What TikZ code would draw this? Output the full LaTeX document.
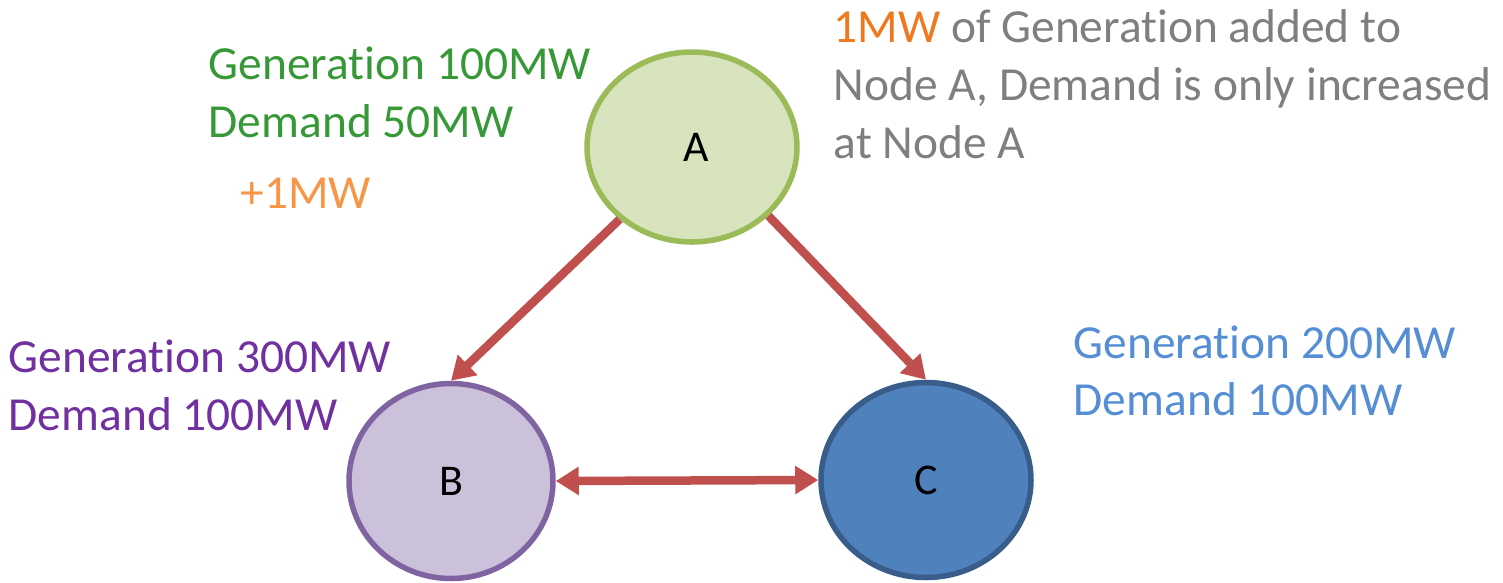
\documentclass[tikz,border=0pt]{standalone}
\usepackage{fontspec}
\setmainfont{Carlito}
\usepackage{xcolor}
\usetikzlibrary{shapes.geometric, arrows.meta}

\definecolor{greentext}{RGB}{55,152,55}
\definecolor{plusorange}{RGB}{247,150,70}
\definecolor{noteorange}{RGB}{240,120,30}
\definecolor{notegray}{RGB}{127,127,127}
\definecolor{purpletext}{RGB}{112,48,160}
\definecolor{bluetext}{RGB}{85,142,213}
\definecolor{fillA}{RGB}{215,228,189}
\definecolor{drawA}{RGB}{155,187,89}
\definecolor{fillB}{RGB}{204,193,218}
\definecolor{drawB}{RGB}{128,100,162}
\definecolor{fillC}{RGB}{79,129,189}
\definecolor{drawC}{RGB}{56,93,138}
\definecolor{linered}{RGB}{192,80,77}

% "Generation" without the t-i ligature
\newcommand{\gentext}{Generat\kern0pt ion}

\begin{document}
\begin{tikzpicture}[x=1cm, y=-1cm,
		bus/.style = {ellipse, line width=0.055cm, inner sep=0, minimum width=2.1cm, minimum height=1.95cm, font=\fontsize{12.5}{14}\selectfont},
		txt/.style = {anchor=base west, inner sep=0, font=\fontsize{13.5}{16.5}\selectfont},
		flow/.style = {line width=0.085cm, draw=linered},
		>={Triangle[length=0.23cm, width=0.27cm]}]
	\useasboundingbox (0,0) rectangle (15.03,5.82);

	% buses
	\node [bus, fill=fillA, draw=drawA, minimum height=1.9cm] (nodeA) at (6.92,1.47) {\hspace{0.08cm}A};
	\node [bus, fill=fillB, draw=drawB, minimum width=2.04cm] (nodeB) at (4.51,4.81) {B};
	\node [bus, fill=fillC, draw=drawC] (nodeC) at (9.26,4.80) {C};

	% flows
	\draw [flow, ->] (nodeA.-135) -- (nodeB.north);
	\draw [flow, ->] (nodeA.-42) -- (nodeC.north);
	\draw [flow, <->] (nodeB.east) -- (nodeC.west);

	% node A
	\node [txt, greentext] (genA) at (2.08,0.79) {\gentext{} 100MW};
	\node [txt, greentext] (demA) at (2.08,1.37) {Demand 50MW};
	\node [txt, plusorange] (addA) at (2.40,2.08) {+1MW};

	% note
	\node [txt, notegray] (noteA) at (8.33,0.42) {\textcolor{noteorange}{1MW} of \gentext{} added to};
	\node [txt, notegray] (noteB) at (8.33,1.00) {Node A, Demand is only increased};
	\node [txt, notegray] (noteC) at (8.33,1.58) {at Node A};

	% node B
	\node [txt, purpletext] (genB) at (0.08,3.72) {\gentext{} 300MW};
	\node [txt, purpletext] (demB) at (0.08,4.30) {Demand 100MW};

	% node C
	\node [txt, bluetext] (genC) at (10.73,3.58) {\gentext{} 200MW};
	\node [txt, bluetext] (demC) at (10.73,4.15) {Demand 100MW};
\end{tikzpicture}
\end{document}
